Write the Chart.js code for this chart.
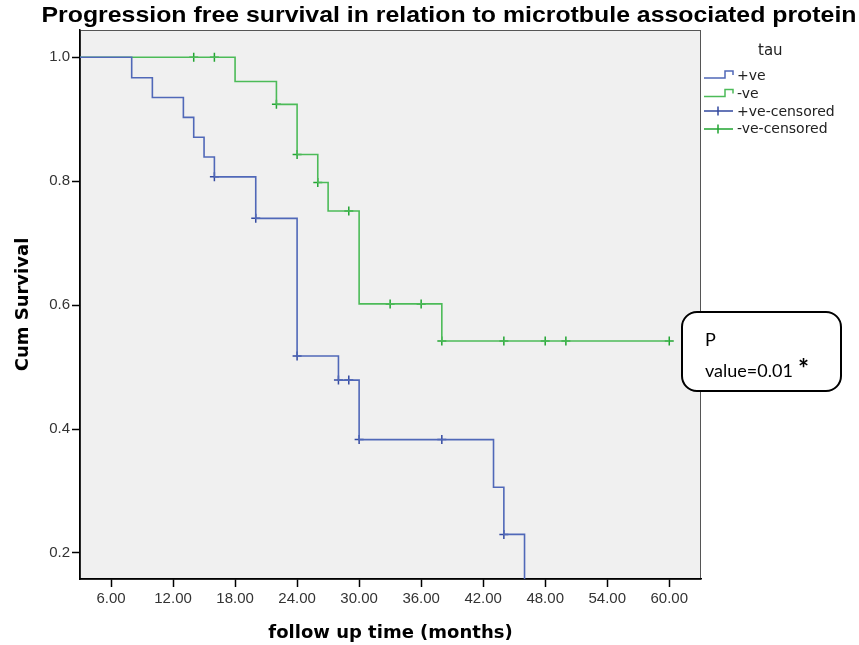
<!DOCTYPE html>
<html>
<head>
<meta charset="utf-8">
<script src="https://cdn.jsdelivr.net/npm/chart.js@4/dist/chart.umd.min.js"></script>
<style>
    html, body { margin: 0; padding: 0; background: #fff; }
</style>
</head>
<body>
<canvas id="kmChart" width="859" height="645"></canvas>
<script>
// tau +ve: event times and survival after each drop
const posTimes = [0, 8, 10, 13, 14, 15, 16, 20, 24, 28, 30, 43, 44, 46];
const posSurv  = [1.0, 0.967, 0.935, 0.903, 0.871, 0.839, 0.807, 0.740, 0.518, 0.479, 0.383, 0.306, 0.230, 0.115];
const posCensTimes = [16, 20, 24, 28, 29, 30, 38, 44];
const posCensSurv  = [0.807, 0.740, 0.518, 0.479, 0.479, 0.383, 0.383, 0.230];

// tau -ve
const negTimes = [0, 18, 22, 24, 26, 27, 30, 38, 60];
const negSurv  = [1.0, 0.961, 0.924, 0.843, 0.798, 0.752, 0.602, 0.542, 0.542];
const negCensTimes = [14, 16, 22, 24, 26, 29, 33, 36, 38, 44, 48, 50, 60];
const negCensSurv  = [1.0, 1.0, 0.924, 0.843, 0.798, 0.752, 0.602, 0.602, 0.542, 0.542, 0.542, 0.542, 0.542];

const xTicks = [6, 12, 18, 24, 30, 36, 42, 48, 54, 60];
const yTicks = [0.2, 0.4, 0.6, 0.8, 1.0];
const seriesNames = ['+ve', '-ve', '+ve-censored', '-ve-censored'];

const blue = '#5068b8';
const green = '#4cbb58';
const blueDark = '#3349a0';
const greenDark = '#22a532';

function pairs(xs, ys) {
    return xs.map((x, i) => ({ x: x, y: ys[i] }));
}

// fond gris, cadre, titre, légende et encadré p
const decor = {
    id: 'decor',
    beforeDraw(chart) {
        const { ctx, chartArea: a } = chart;
        ctx.save();
        ctx.fillStyle = '#fff';
        ctx.fillRect(0, 0, chart.width, chart.height);
        ctx.fillStyle = '#f0f0f0';
        ctx.fillRect(a.left, a.top, a.right - a.left, a.bottom - a.top);
        ctx.strokeStyle = '#555';
        ctx.lineWidth = 1;
        ctx.strokeRect(a.left + 0.5, a.top + 0.5, a.right - a.left - 1, a.bottom - a.top);
        ctx.restore();
    },
    afterDraw(chart) {
        const ctx = chart.ctx;
        const ds = chart.data.datasets;
        ctx.save();

        // titre (étiré sur la largeur de l'original)
        const titleText = 'Progression free survival in relation to microtbule associated protein';
        ctx.fillStyle = '#000';
        ctx.font = 'bold 22px "Liberation Sans", Arial, sans-serif';
        ctx.textAlign = 'center';
        ctx.textBaseline = 'alphabetic';
        const tw = ctx.measureText(titleText).width;
        ctx.save();
        ctx.translate(449, 22);
        ctx.scale(815 / tw, 1);
        ctx.fillText(titleText, 0, 0);
        ctx.restore();

        // légende
        ctx.textAlign = 'left';
        ctx.fillStyle = '#222';
        ctx.font = '15px "DejaVu Sans", sans-serif';
        ctx.fillText('tau', 758, 55);
        ctx.font = '14px "DejaVu Sans", sans-serif';
        const rows = [80, 98, 116, 133];
        ctx.lineWidth = 1.5;
        // icônes en escalier
        [[ds[0].borderColor, 78, 71], [ds[1].borderColor, 96.5, 89.5]].forEach(function(r) {
            ctx.strokeStyle = r[0];
            ctx.beginPath();
            ctx.moveTo(704, r[1]);
            ctx.lineTo(725, r[1]);
            ctx.lineTo(725, r[2]);
            ctx.lineTo(733, r[2]);
            ctx.lineTo(733, r[2] + 4);
            ctx.stroke();
        });
        // icônes censurées
        [[ds[2].borderColor, 111], [ds[3].borderColor, 129]].forEach(function(r) {
            ctx.strokeStyle = r[0];
            ctx.beginPath();
            ctx.moveTo(704, r[1]);
            ctx.lineTo(733, r[1]);
            ctx.moveTo(718, r[1] - 4.5);
            ctx.lineTo(718, r[1] + 4.5);
            ctx.stroke();
        });
        ctx.fillStyle = '#222';
        seriesNames.forEach(function(name, i) {
            ctx.fillText(name, 737, rows[i]);
        });

        // encadré p value
        ctx.fillStyle = '#fff';
        ctx.strokeStyle = '#000';
        ctx.lineWidth = 2;
        ctx.beginPath();
        ctx.roundRect(682, 312, 159, 79, 15);
        ctx.fill();
        ctx.stroke();
        ctx.fillStyle = '#000';
        ctx.font = '18px Lato, "Open Sans", sans-serif';
        ctx.fillText('P', 705, 346);
        ctx.fillText('value=0.01', 705, 377);
        ctx.font = 'bold 26px Lato, sans-serif';
        ctx.fillText('*', 798, 378);
        ctx.restore();
    }
};

const kmChart = new Chart(document.getElementById('kmChart'), {
    type: 'line',
    data: {
        datasets: [
            {
                label: seriesNames[0],
                data: pairs(posTimes, posSurv),
                borderColor: blue,
                borderWidth: 1.6,
                stepped: true,
                pointRadius: 0,
                fill: false
            },
            {
                label: seriesNames[1],
                data: pairs(negTimes, negSurv),
                borderColor: green,
                borderWidth: 1.6,
                stepped: true,
                pointRadius: 0,
                fill: false
            },
            {
                label: seriesNames[2],
                data: pairs(posCensTimes, posCensSurv),
                borderColor: blueDark,
                showLine: false,
                pointStyle: 'cross',
                pointRadius: 4.5,
                pointBorderWidth: 1.5,
                pointBorderColor: blueDark
            },
            {
                label: seriesNames[3],
                data: pairs(negCensTimes, negCensSurv),
                borderColor: greenDark,
                showLine: false,
                pointStyle: 'cross',
                pointRadius: 4.5,
                pointBorderWidth: 1.5,
                pointBorderColor: greenDark
            }
        ]
    },
    options: {
        responsive: false,
        animation: false,
        devicePixelRatio: 1,
        layout: { padding: { left: 0, right: 158, top: 30, bottom: 0 } },
        plugins: {
            legend: { display: false },
            title: { display: false },
            tooltip: { enabled: false }
        },
        scales: {
            x: {
                type: 'linear',
                min: 3.0,
                max: 63.07,
                afterBuildTicks: function(scale) {
                    scale.ticks = xTicks.map(v => ({ value: v }));
                },
                afterFit: function(scale) { scale.height = 66; },
                grid: {
                    drawOnChartArea: false,
                    drawTicks: true,
                    tickLength: 8,
                    tickColor: '#000',
                    tickWidth: 1.5
                },
                border: { display: true, color: '#000', width: 1.5 },
                ticks: {
                    padding: 3,
                    color: '#333',
                    font: { family: '"Liberation Sans", Arial, sans-serif', size: 15 },
                    maxRotation: 0,
                    callback: v => v.toFixed(2)
                },
                title: {
                    display: true,
                    text: 'follow up time (months)',
                    color: '#000',
                    font: { family: '"DejaVu Sans", sans-serif', size: 18, weight: 'bold' },
                    padding: { top: 0, bottom: 1 }
                }
            },
            y: {
                type: 'linear',
                min: 0.158,
                max: 1.044,
                afterBuildTicks: function(scale) {
                    scale.ticks = yTicks.map(v => ({ value: v }));
                },
                afterFit: function(scale) { scale.width = 80; },
                grid: {
                    drawOnChartArea: false,
                    drawTicks: true,
                    tickLength: 8,
                    tickColor: '#000',
                    tickWidth: 1.5
                },
                border: { display: true, color: '#000', width: 1.5 },
                ticks: {
                    padding: 2,
                    color: '#333',
                    font: { family: '"Liberation Sans", Arial, sans-serif', size: 15 },
                    callback: v => v.toFixed(1)
                },
                title: {
                    display: true,
                    text: 'Cum Survival',
                    color: '#000',
                    font: { family: '"DejaVu Sans", sans-serif', size: 18, weight: 'bold' },
                    padding: { top: 13, bottom: 0 }
                }
            }
        }
    },
    plugins: [decor]
});
</script>
</body>
</html>
